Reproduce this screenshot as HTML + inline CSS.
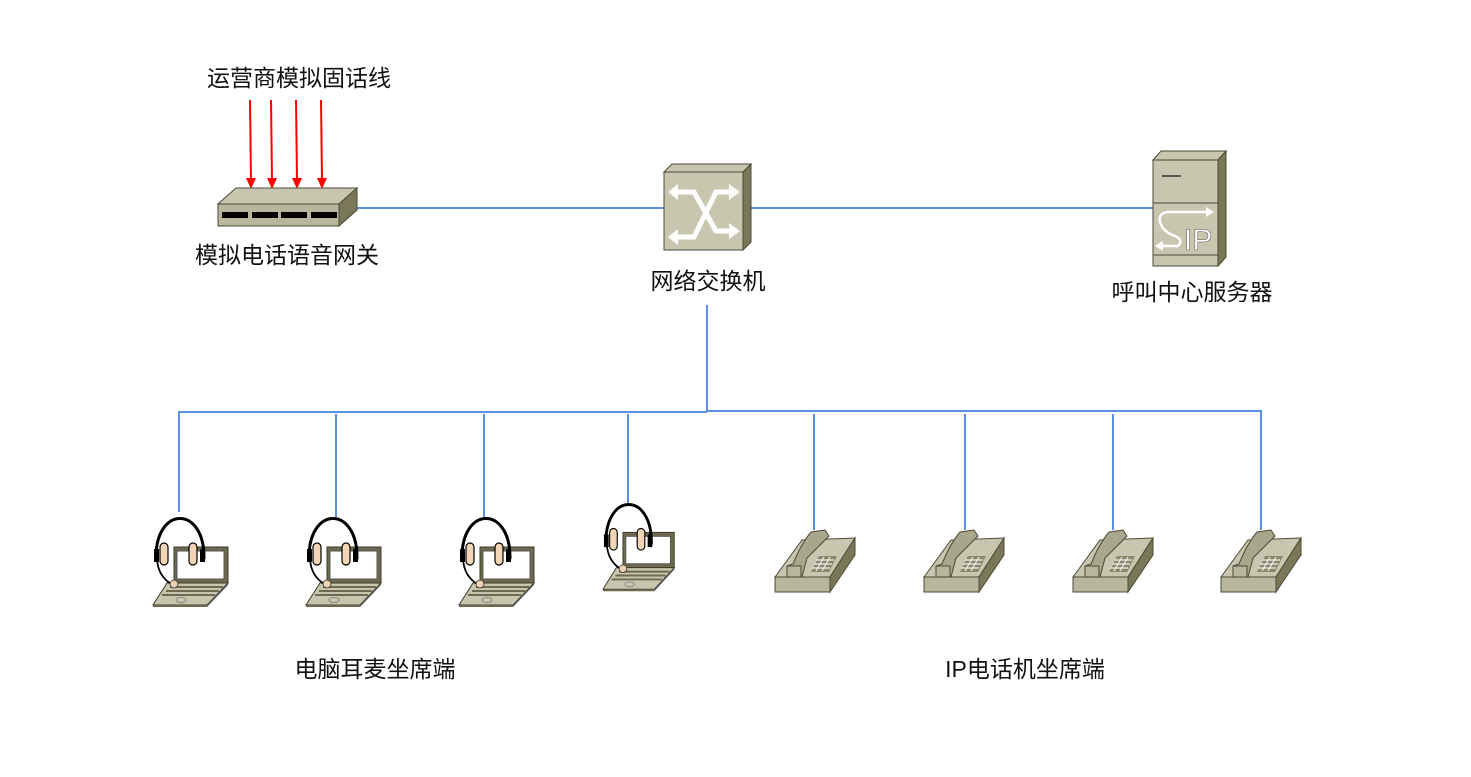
<!DOCTYPE html>
<html><head><meta charset="utf-8"><style>
html,body{margin:0;padding:0;background:#fff;}
svg{display:block;}
text{font-family:"Liberation Sans","Noto Sans CJK SC",sans-serif;font-size:23px;fill:#111;}
</style></head><body>
<svg width="1471" height="777" viewBox="0 0 1471 777" xmlns="http://www.w3.org/2000/svg">
<defs>
<symbol id="lap" overflow="visible">
 <rect x="21" y="30" width="54" height="36" fill="#6e6a50" stroke="#3a3a2a" stroke-width="1"/>
 <rect x="24" y="34" width="47" height="28" fill="#fff" stroke="#555" stroke-width="1"/>
 <polygon points="14,66 75,66 54,88 0,88" fill="#c8c6ae" stroke="#3a3a2a" stroke-width="1"/>
 <polygon points="0,88 54,88 54,90 0,90" fill="#6e6a50"/>
 <polygon points="54,88 75,66 75,68 54,90" fill="#555"/>
 <line x1="17" y1="70" x2="70" y2="70" stroke="#6e6a50" stroke-width="2"/>
 <line x1="13" y1="74" x2="66" y2="74" stroke="#6e6a50" stroke-width="2"/>
 <line x1="9" y1="78" x2="62" y2="78" stroke="#6e6a50" stroke-width="2"/>
 <ellipse cx="28" cy="83" rx="5" ry="2.5" fill="none" stroke="#777" stroke-width="0.8"/>
 <path d="M3,42 C2,-12 52,-12 51,42" fill="none" stroke="#000" stroke-width="3"/>
 <path d="M4,42 Q5,60 20,68" fill="none" stroke="#000" stroke-width="1.8"/>
 <circle cx="21" cy="67" r="4" fill="#f0d0b0" stroke="#333" stroke-width="0.8"/>
 <rect x="1" y="32" width="5" height="13" fill="#000"/>
 <rect x="47" y="32" width="5" height="13" fill="#000"/>
 <rect x="7" y="26" width="8" height="22" rx="4" fill="#f3d5b5" stroke="#000" stroke-width="1.2"/>
 <rect x="36" y="26" width="8" height="22" rx="4" fill="#f3d5b5" stroke="#000" stroke-width="1.2"/>
</symbol>
<symbol id="ph" overflow="visible">
 <polygon points="0,47 27,10 80,8 55,47" fill="#c8c6ae" stroke="#4a4a35" stroke-width="1"/>
 <polygon points="55,47 80,8 80,25 55,62" fill="#7a7858" stroke="#4a4a35" stroke-width="1"/>
 <rect x="0" y="47" width="55" height="15" fill="#b8b69c" stroke="#4a4a35" stroke-width="1"/>
 <polygon points="44,26 62,26 54,42 36,42" fill="#8a8868"/>
 <g stroke="#eee" stroke-width="1.2">
  <line x1="41" y1="30" x2="59" y2="30"/><line x1="39" y1="34" x2="57" y2="34"/><line x1="37" y1="38" x2="55" y2="38"/>
  <line x1="49" y1="27" x2="41" y2="41"/><line x1="55" y1="27" x2="47" y2="41"/>
 </g>
 <path d="M36,2 L50,0 L54,6 L32,28 L27,47 L12,47 L12,36 L18,34 Q26,14 36,2 Z" fill="#a8a68c" stroke="#4a4a35" stroke-width="1"/>
 <rect x="12" y="36" width="14" height="11" fill="#b8b69c" stroke="#4a4a35" stroke-width="1"/>
</symbol>
</defs>

<g stroke="#5b8fe0" stroke-width="2" fill="none">
 <line x1="357" y1="208" x2="664" y2="208"/>
 <line x1="751" y1="208" x2="1153" y2="208"/>
 <line x1="707" y1="305" x2="707" y2="412"/>
 <polyline points="179,512 179,412 707,412"/>
 <polyline points="707,411 1261,411 1261,530"/>
 <line x1="336" y1="414" x2="336" y2="517"/>
 <line x1="484" y1="414" x2="484" y2="517"/>
 <line x1="628" y1="414" x2="628" y2="503"/>
 <line x1="814" y1="414" x2="814" y2="530"/>
 <line x1="965" y1="414" x2="965" y2="530"/>
 <line x1="1113" y1="414" x2="1113" y2="530"/>
</g>

<g stroke="#f00" stroke-width="2">
 <line x1="250" y1="100" x2="251" y2="180"/>
 <line x1="271" y1="100" x2="272" y2="180"/>
 <line x1="296" y1="100" x2="297" y2="180"/>
 <line x1="321" y1="100" x2="322" y2="180"/>
</g>
<g fill="#f00">
 <polygon points="246,178 256,178 251,189"/>
 <polygon points="267,178 277,178 272,189"/>
 <polygon points="292,178 302,178 297,189"/>
 <polygon points="317,178 327,178 322,189"/>
</g>

<polygon points="218,204 236,188 357,188 339,204" fill="#c8c6ae" stroke="#4a4a35"/>
<polygon points="339,204 357,188 357,210 339,226" fill="#7a7858" stroke="#4a4a35"/>
<rect x="218" y="204" width="121" height="22" fill="#b8b69c" stroke="#4a4a35"/>
<g fill="#000"><rect x="222" y="212" width="26" height="6"/><rect x="252" y="212" width="26" height="6"/><rect x="281" y="212" width="26" height="6"/><rect x="311" y="212" width="26" height="6"/></g>

<polygon points="664,172 672,164 751,164 743,172" fill="#c8c6ae" stroke="#4a4a35"/>
<polygon points="743,172 751,164 751,242 743,250" fill="#7a7858" stroke="#4a4a35"/>
<rect x="664" y="172" width="79" height="78" fill="#c8c6ae" stroke="#4a4a35"/>
<g stroke="#fff" stroke-width="5" fill="none">
 <path d="M675,192 L694,192 L716,231 L730,231"/>
 <path d="M675,237 L694,237 L716,192 L730,192"/>
</g>
<g fill="#fff">
 <polygon points="668,192 678,184 678,200"/><polygon points="668,237 678,229 678,245"/>
 <polygon points="740,192 729,184 729,200"/><polygon points="740,231 729,223 729,239"/>
</g>

<polygon points="1153,160 1161,151 1226,151 1218,160" fill="#c8c6ae" stroke="#4a4a35"/>
<polygon points="1218,160 1226,151 1226,257 1218,266" fill="#7a7858" stroke="#4a4a35"/>
<rect x="1153" y="160" width="65" height="106" fill="#c8c6ae" stroke="#4a4a35"/>
<line x1="1153" y1="203" x2="1218" y2="203" stroke="#4a4a35"/>
<line x1="1153" y1="255" x2="1218" y2="255" stroke="#4a4a35"/>
<line x1="1162" y1="176" x2="1181" y2="176" stroke="#333" stroke-width="1.5"/>
<path d="M1208,212 L1170,212 Q1158,212 1160,222 Q1163,232 1175,236 Q1184,240 1178,246 L1160,246" fill="none" stroke="#fff" stroke-width="2.5"/>
<polygon points="1214,212 1206,207 1206,217" fill="#fff"/>
<polygon points="1155,246 1163,241 1163,251" fill="#fff"/>
<text x="1184" y="250" style="font-size:30px;fill:#fff;stroke:#555;stroke-width:0.5">IP</text>

<use href="#lap" x="153" y="517"/>
<use href="#lap" x="306" y="517"/>
<use href="#lap" x="459" y="517"/>
<g transform="translate(603,503) scale(0.95,0.98)"><use href="#lap" x="0" y="0"/></g>

<use href="#ph" x="775" y="530"/>
<use href="#ph" x="924" y="530"/>
<use href="#ph" x="1073" y="530"/>
<use href="#ph" x="1221" y="530"/>

<g text-anchor="middle">
<text x="299" y="86">运营商模拟固话线</text>
<text x="287" y="263">模拟电话语音网关</text>
<text x="708" y="289">网络交换机</text>
<text x="1192" y="300">呼叫中心服务器</text>
<text x="375" y="677">电脑耳麦坐席端</text>
<text x="1025" y="677">IP电话机坐席端</text>
</g>
</svg>
</body></html>
